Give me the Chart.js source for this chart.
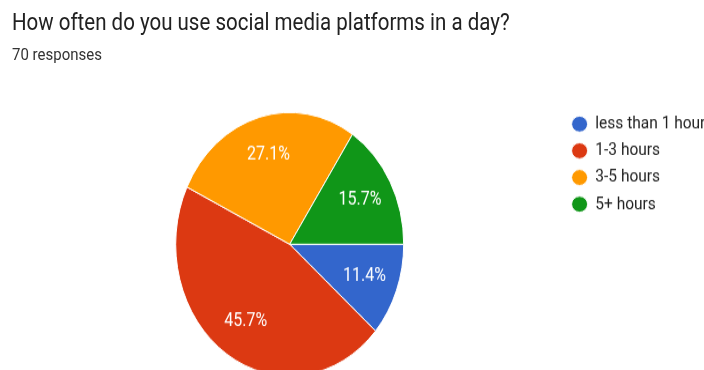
<!DOCTYPE html>
<html>
<head>
<meta charset="utf-8">
<script src="https://cdn.jsdelivr.net/npm/chart.js@4.4.1/dist/chart.umd.min.js"></script>
<style>
  html { overflow: hidden; }
  html, body { margin: 0; padding: 0; background: #fff; }
  body { position: relative; width: 704px; height: 370px; font-family: Roboto, Arial, sans-serif; }
  /* the source picture is stretched vertically by about 1.155 */
  #head {
    position: absolute; left: 0; top: 0; width: 704px; height: 60px;
    transform: scaleY(1.155); transform-origin: 0 0; z-index: 1;
  }
  #title {
    position: absolute; left: 12px; top: 9.3px;
    font-size: 20.5px; line-height: 1; color: #212121; white-space: nowrap;
  }
  #sub {
    position: absolute; left: 12px; top: 40.2px;
    font-size: 15px; line-height: 1; color: #333; white-space: nowrap;
  }
  #c { position: absolute; left: 0; top: 0; }
</style>
</head>
<body>
<canvas id="c" width="704" height="340" style="width:704px;height:392.7px"></canvas>
<div id="head">
  <div id="title">How often do you use social media platforms in a day?</div>
  <div id="sub">70 responses</div>
</div>
<script>
// answers from the form summary
const categories = ["less than 1 hour", "1-3 hours", "3-5 hours", "5+ hours"];
const responses = [8, 32, 19, 11];

const total = responses.reduce((a, b) => a + b, 0);

// white percentage text inside each slice
const sliceLabels = {
  id: "sliceLabels",
  afterDatasetsDraw(chart) {
    const ctx = chart.ctx;
    const meta = chart.getDatasetMeta(0);
    ctx.save();
    ctx.fillStyle = "#fff";
    ctx.font = "16px Roboto, Arial, sans-serif";
    ctx.textAlign = "center";
    ctx.textBaseline = "middle";
    meta.data.forEach((arc, i) => {
      const p = arc.getProps(["x", "y", "startAngle", "endAngle", "outerRadius"], true);
      const mid = (p.startAngle + p.endAngle) / 2;
      const r = p.outerRadius * 0.7;
      const pct = (responses[i] / total * 100).toFixed(1) + "%";
      ctx.fillText(pct, p.x + Math.cos(mid) * r, p.y + Math.sin(mid) * r);
    });
    ctx.restore();
  }
};

const ctx = document.getElementById("c").getContext("2d");
const chart = new Chart(ctx, {
  type: "pie",
  data: {
    labels: categories,
    datasets: [
      {
        data: responses,
        backgroundColor: ["#3366cc", "#dc3912", "#ff9900", "#109618"],
        borderColor: "#ffffff",
        borderWidth: 1,
        radius: 114,
      },
    ],
  },
  options: {
    responsive: false,
    animation: false,
    devicePixelRatio: 1,
    rotation: 90,
    layout: {
      padding: { left: 15.4, right: 0, top: 92, bottom: 9.4 },
    },
    plugins: {
      legend: {
        position: "right",
        align: "start",
        maxWidth: 140,
        labels: {
          usePointStyle: true,
          pointStyle: "circle",
          pointStyleWidth: 16,
          boxHeight: 9.8,
          padding: 7.6,
          color: "#222",
          font: { family: "Roboto, Arial, sans-serif", size: 15.5 },
        },
      },
      tooltip: { enabled: false },
    },
  },
  plugins: [sliceLabels],
});
</script>
</body>
</html>
